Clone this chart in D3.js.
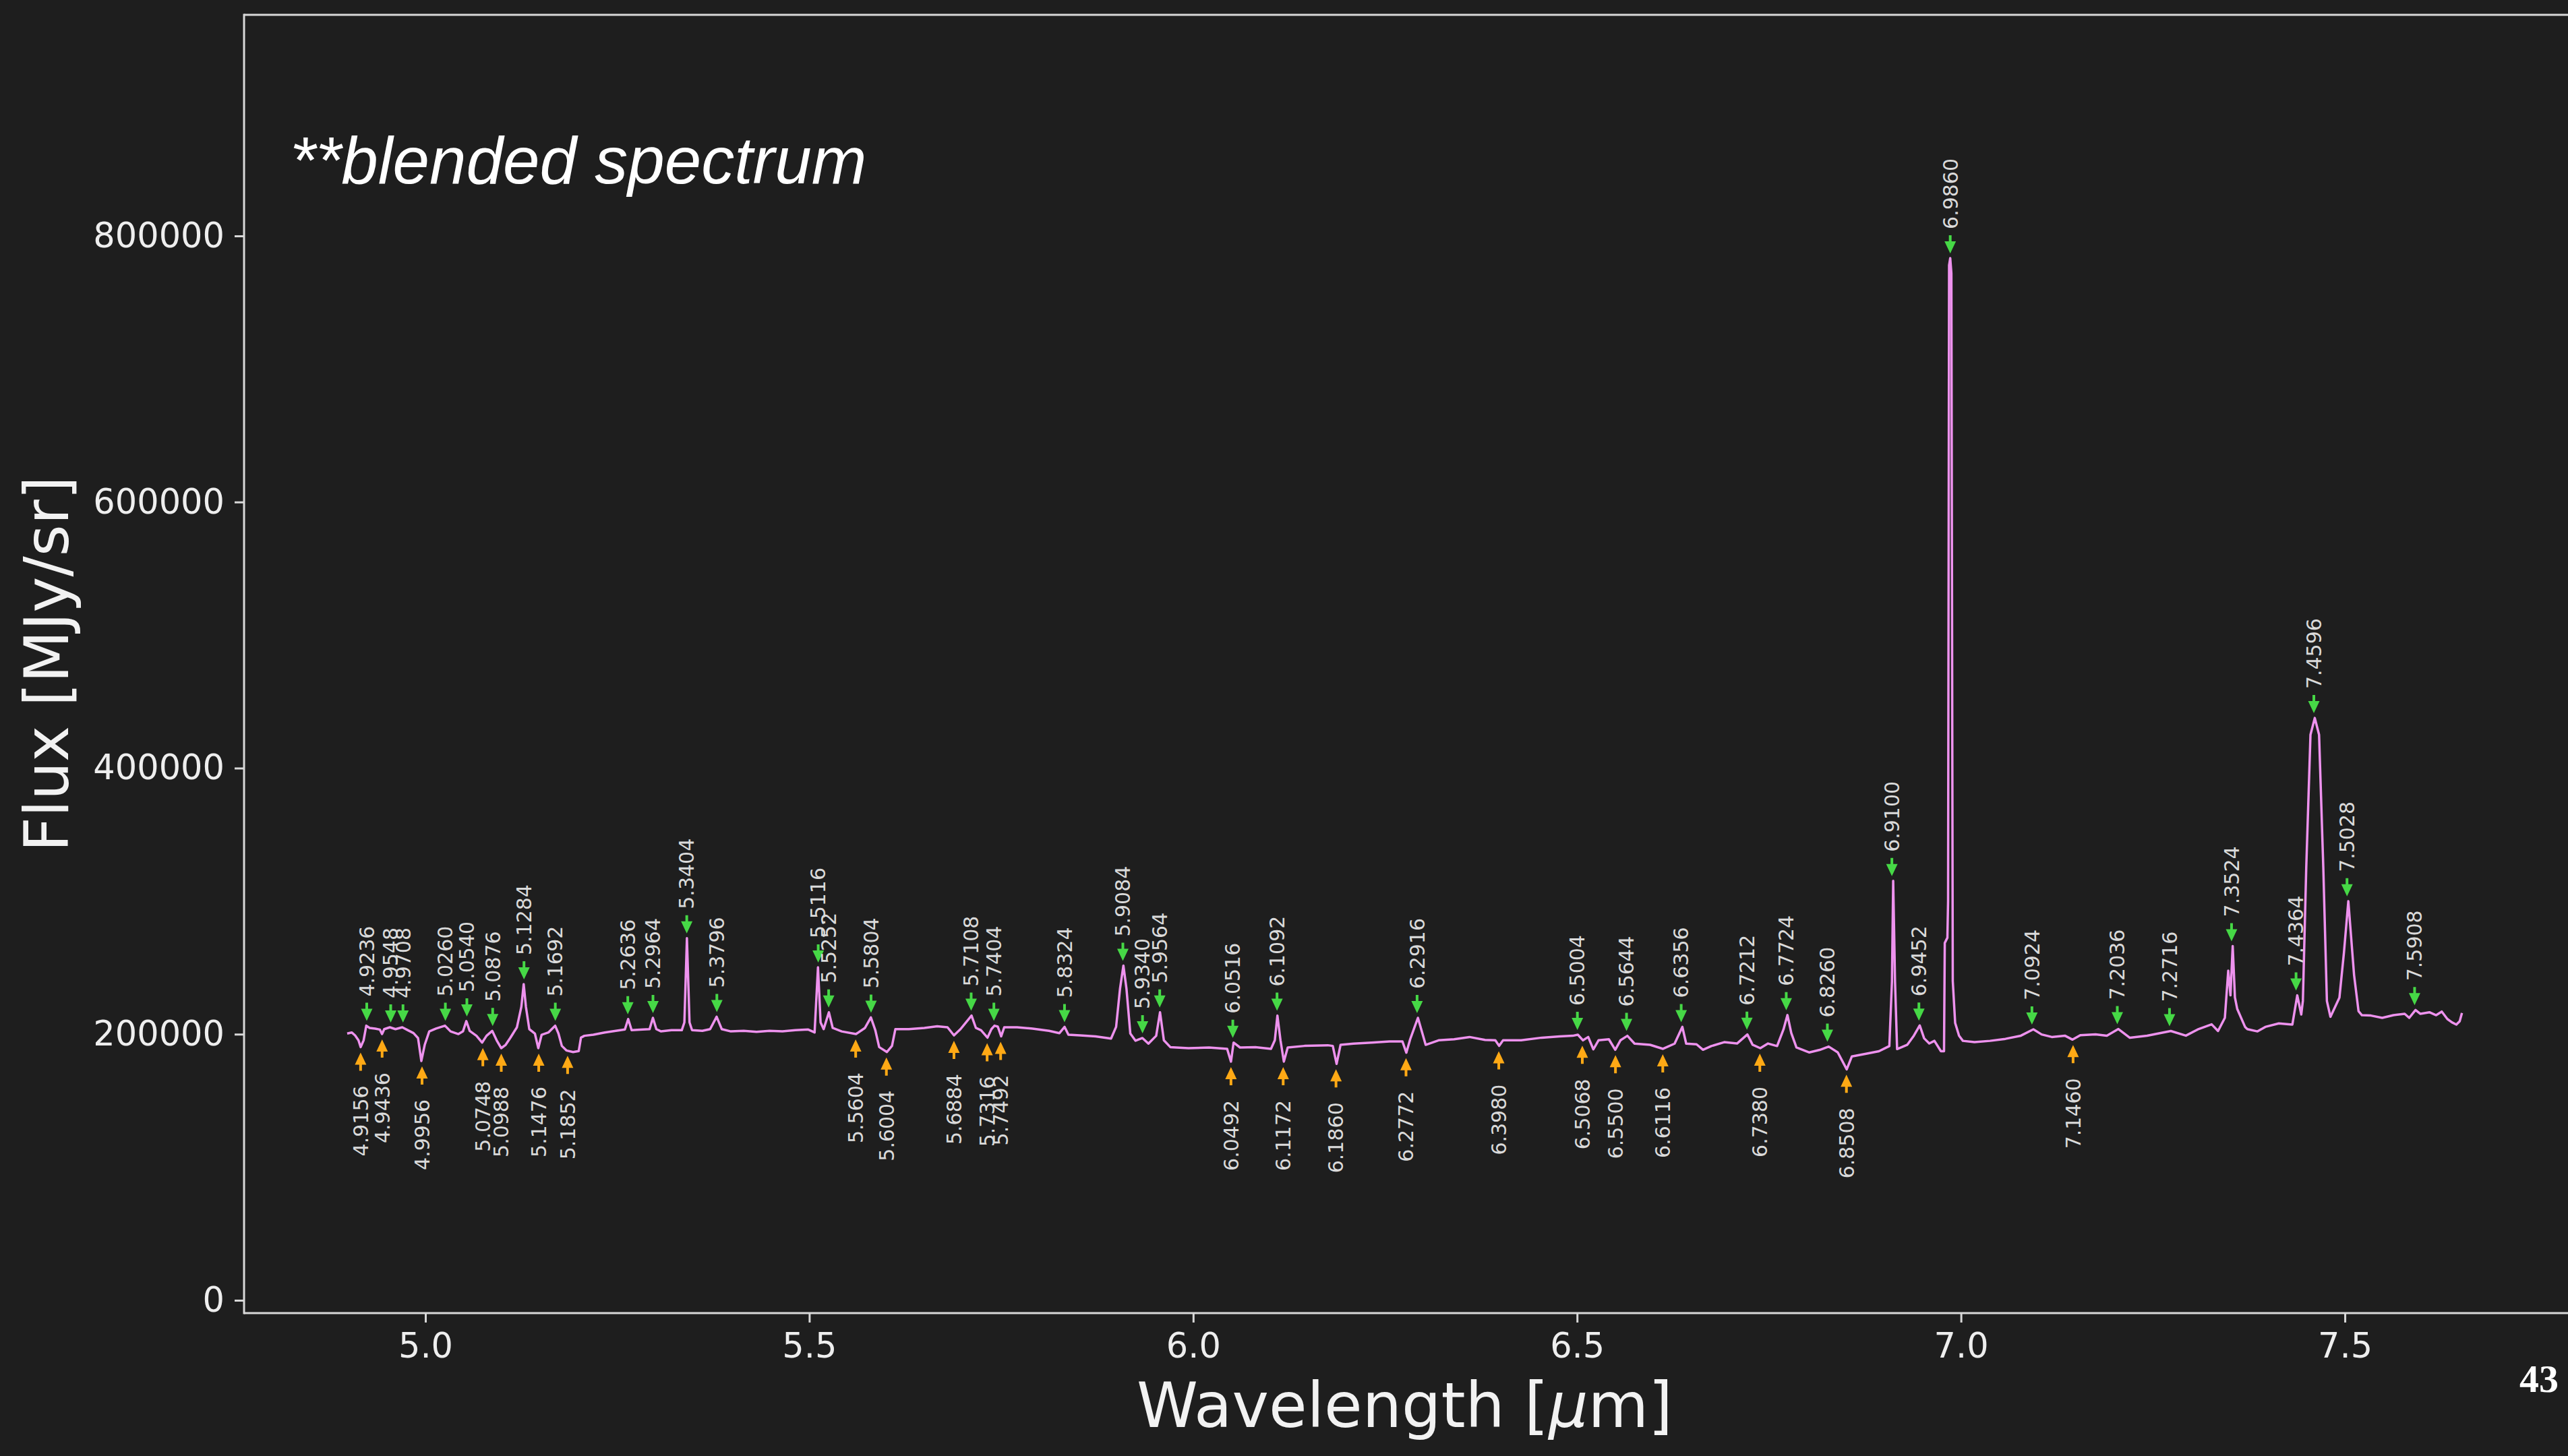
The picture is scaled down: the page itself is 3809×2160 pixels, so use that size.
<!DOCTYPE html>
<html lang="en">
<head>
<meta charset="UTF-8">
<title>blended spectrum</title>
<script src="https://d3js.org/d3.v7.min.js"></script>
<style>
    html, body { margin: 0; padding: 0; background: #1e1e1e; }
    svg { display: block; }
    .axis text { font-family: "DejaVu Sans", sans-serif; font-size: 51px; fill: #eeeeee; }
    .axis line { stroke: #d8d8d8; stroke-width: 3px; }
    .spine { stroke: #d8d8d8; stroke-width: 3px; }
    .lbl { font-family: "DejaVu Sans", sans-serif; font-size: 30px; fill: #dadada; }
</style>
</head>
<body>
<script>
// spectrum: [wavelength (um), flux (MJy/sr)]
var spectrum = [
    [4.8981, 200500], [4.9040, 201300], [4.9084, 199100], [4.9128, 195400], [4.9157, 190300],
    [4.9195, 195400], [4.9230, 206400], [4.9274, 204700], [4.9347, 204200], [4.9406, 203500],
    [4.9435, 200100], [4.9464, 203800], [4.9537, 205200], [4.9610, 203800], [4.9699, 205200],
    [4.9772, 203000], [4.9845, 200800], [4.9904, 197100], [4.9947, 179900], [4.9991, 192000],
    [5.0050, 202100], [5.0138, 204200], [5.0255, 206400], [5.0328, 202100], [5.0430, 200100],
    [5.0489, 202100], [5.0533, 209800], [5.0577, 202500], [5.0665, 198800], [5.0738, 193700],
    [5.0796, 198800], [5.0870, 202500], [5.0928, 195400], [5.0987, 189500], [5.1045, 192000],
    [5.1104, 197100], [5.1192, 205200], [5.1250, 220700], [5.1280, 237600], [5.1309, 220700],
    [5.1353, 203800], [5.1426, 200500], [5.1470, 189500], [5.1514, 199600], [5.1602, 201300],
    [5.1690, 206400], [5.1733, 200500], [5.1777, 191200], [5.1836, 187800], [5.1924, 186600],
    [5.1997, 187300], [5.2026, 197400], [5.2070, 198800], [5.2188, 199600], [5.2334, 201300],
    [5.2480, 202500], [5.2598, 203500], [5.2641, 211400], [5.2686, 203000], [5.2832, 203500],
    [5.2920, 203800], [5.2963, 212300], [5.3008, 203800], [5.3070, 202100], [5.3204, 203000],
    [5.3339, 203000], [5.3373, 208900], [5.3406, 272200], [5.3440, 208900], [5.3473, 203000],
    [5.3607, 202500], [5.3708, 203800], [5.3793, 213100], [5.3860, 203800], [5.3978, 202100],
    [5.4146, 202500], [5.4313, 201800], [5.4482, 202500], [5.4650, 202100], [5.4817, 203000],
    [5.4986, 203500], [5.5069, 201300], [5.5113, 250300], [5.5147, 208900], [5.5187, 203800],
    [5.5255, 216500], [5.5305, 204700], [5.5422, 202100], [5.5608, 200100], [5.5725, 204700],
    [5.5802, 212600], [5.5860, 203000], [5.5910, 190300], [5.6011, 186600], [5.6077, 191200],
    [5.6121, 203800], [5.6296, 203800], [5.6498, 204700], [5.6666, 205900], [5.6800, 205200],
    [5.6884, 199100], [5.6969, 203800], [5.7113, 214000], [5.7170, 204700], [5.7237, 203000],
    [5.7321, 197400], [5.7372, 203800], [5.7412, 206400], [5.7455, 205700], [5.7499, 198400],
    [5.7539, 205200], [5.7707, 205200], [5.7909, 204200], [5.8123, 202500], [5.8258, 200800],
    [5.8325, 205500], [5.8375, 199600], [5.8527, 199100], [5.8728, 198400], [5.8930, 196700],
    [5.8996, 205500], [5.9047, 234200], [5.9091, 251500], [5.9131, 234200], [5.9181, 200500],
    [5.9249, 195100], [5.9339, 197100], [5.9417, 192900], [5.9518, 198800], [5.9568, 216500],
    [5.9618, 195400], [5.9702, 190300], [5.9938, 189500], [6.0206, 190000], [6.0442, 189000],
    [6.0492, 179400], [6.0526, 193700], [6.0610, 190000], [6.0811, 190300], [6.1013, 189000],
    [6.1063, 195400], [6.1097, 214000], [6.1137, 195400], [6.1181, 179400], [6.1231, 190000],
    [6.1450, 191200], [6.1753, 191700], [6.1818, 191200], [6.1868, 177700], [6.1919, 192000],
    [6.2087, 192900], [6.2322, 193700], [6.2557, 194600], [6.2725, 194600], [6.2776, 186100],
    [6.2826, 196200], [6.2927, 212300], [6.3028, 192000], [6.3196, 195400], [6.3398, 196200],
    [6.3599, 197900], [6.3801, 195700], [6.3935, 195400], [6.3985, 191200], [6.4036, 195400],
    [6.4271, 195400], [6.4540, 197400], [6.4775, 198400], [6.4943, 198800], [6.5010, 199600],
    [6.5077, 195400], [6.5145, 197900], [6.5212, 188600], [6.5279, 195400], [6.5414, 196200],
    [6.5497, 188300], [6.5565, 195400], [6.5655, 198800], [6.5749, 192900], [6.5951, 192000],
    [6.6119, 189000], [6.6270, 192900], [6.6371, 205500], [6.6421, 192900], [6.6556, 192400],
    [6.6640, 188300], [6.6748, 191100], [6.6916, 194000], [6.7083, 193000], [6.7218, 199800],
    [6.7286, 192100], [6.7386, 189500], [6.7487, 193000], [6.7605, 191100], [6.7689, 203700],
    [6.7740, 214400], [6.7790, 200800], [6.7857, 190100], [6.8025, 186300], [6.8160, 188200],
    [6.8277, 190700], [6.8395, 186300], [6.8512, 173600], [6.8579, 183300], [6.8764, 185300],
    [6.8932, 187200], [6.9067, 191100], [6.9101, 239600], [6.9117, 315200], [6.9141, 239600],
    [6.9168, 188800], [6.9302, 192100], [6.9386, 198900], [6.9463, 206600], [6.9520, 196900],
    [6.9587, 193000], [6.9654, 195000], [6.9739, 187200], [6.9779, 187200], [6.9789, 268600],
    [6.9823, 272500], [6.9832, 300000], [6.9845, 778000], [6.9860, 783300], [6.9875, 772000],
    [6.9893, 240000], [6.9924, 208500], [6.9975, 198900], [7.0025, 195000], [7.0176, 194000],
    [7.0378, 195000], [7.0579, 196500], [7.0781, 198900], [7.0943, 203700], [7.1050, 199800],
    [7.1184, 197900], [7.1353, 198900], [7.1453, 195900], [7.1554, 199200], [7.1753, 199900],
    [7.1900, 198900], [7.2050, 203900], [7.2200, 197300], [7.2424, 198900], [7.2733, 202400],
    [7.2929, 198900], [7.3096, 203900], [7.3265, 207400], [7.3348, 202400], [7.3437, 212300],
    [7.3481, 247800], [7.3510, 229200], [7.3539, 266300], [7.3568, 227700], [7.3598, 219000],
    [7.3700, 205500], [7.3730, 203800], [7.3862, 202100], [7.3964, 205500], [7.4140, 208100],
    [7.4316, 207200], [7.4380, 229200], [7.4432, 214800], [7.4453, 225000], [7.4497, 325300],
    [7.4552, 425100], [7.4608, 437700], [7.4664, 425100], [7.4719, 325300], [7.4766, 224900],
    [7.4812, 213100], [7.4929, 227500], [7.4988, 261400], [7.5045, 300000], [7.5120, 244400],
    [7.5178, 217300], [7.5222, 214300], [7.5340, 214000], [7.5486, 212300], [7.5633, 214300],
    [7.5779, 215300], [7.5838, 212300], [7.5920, 218200], [7.5984, 215300], [7.6101, 216500],
    [7.6189, 214300], [7.6262, 217000], [7.6335, 211400], [7.6394, 208900], [7.6452, 207200],
    [7.6496, 209800], [7.6525, 216000]
];

// identified lines (green = emission, orange = absorption)
var emissionLines = [4.9236, 4.9548, 4.9708, 5.0260, 5.0540, 5.0876, 5.1284, 5.1692, 5.2636, 5.2964,
    5.3404, 5.3796, 5.5116, 5.5252, 5.5804, 5.7108, 5.7404, 5.8324, 5.9084, 5.9340, 5.9564, 6.0516,
    6.1092, 6.2916, 6.5004, 6.5644, 6.6356, 6.7212, 6.7724, 6.8260, 6.9100, 6.9452, 6.9860, 7.0924,
    7.2036, 7.2716, 7.3524, 7.4364, 7.4596, 7.5028, 7.5908];
var absorptionLines = [4.9156, 4.9436, 4.9956, 5.0748, 5.0988, 5.1476, 5.1852, 5.5604, 5.6004,
    5.6884, 5.7316, 5.7492, 6.0492, 6.1172, 6.1860, 6.2772, 6.3980, 6.5068, 6.5500, 6.6116, 6.7380,
    6.8508, 7.1460];

var xTicks = [5.0, 5.5, 6.0, 6.5, 7.0, 7.5];
var yTicks = [0, 200000, 400000, 600000, 800000];

var width = 3809, height = 2160;
var plotLeft = 362, plotRight = 3805, plotTop = 22, plotBottom = 1948;

var svg = d3.select("body").append("svg")
    .attr("width", width)
    .attr("height", height);

svg.append("rect").attr("width", width).attr("height", height).attr("fill", "#1e1e1e");

var x = d3.scaleLinear().domain([4.7638, 7.7871]).range([plotLeft, plotRight]);
var y = d3.scaleLinear().domain([-9626, 966180]).range([plotBottom, plotTop]);

// axes
var xAxis = svg.append("g")
    .attr("class", "axis")
    .attr("transform", "translate(0," + plotBottom + ")")
    .call(d3.axisBottom(x).tickValues(xTicks).tickFormat(d3.format(".1f")).tickSize(14).tickPadding(16));
xAxis.select(".domain").remove();

var yAxis = svg.append("g")
    .attr("class", "axis")
    .attr("transform", "translate(" + plotLeft + ",0)")
    .call(d3.axisLeft(y).tickValues(yTicks).tickFormat(d3.format("d")).tickSize(14).tickPadding(15));
yAxis.select(".domain").remove();

// spines
svg.append("line").attr("class", "spine").attr("x1", plotLeft).attr("x2", plotLeft)
    .attr("y1", plotTop - 1.5).attr("y2", plotBottom + 1.5);
svg.append("line").attr("class", "spine").attr("x1", plotLeft).attr("x2", width)
    .attr("y1", plotTop).attr("y2", plotTop);
svg.append("line").attr("class", "spine").attr("x1", plotLeft).attr("x2", width)
    .attr("y1", plotBottom).attr("y2", plotBottom);

// spectrum
var line = d3.line()
    .x(function(d) { return x(d[0]); })
    .y(function(d) { return y(d[1]); });

svg.append("path")
    .datum(spectrum)
    .attr("fill", "none")
    .attr("stroke", "#ee92ee")
    .attr("stroke-width", 3.5)
    .attr("stroke-linejoin", "round")
    .attr("d", line);

// flux at a line: local max (emission) or min (absorption) of the spectrum
function lineFlux(wl, emission) {
    var pts = spectrum.filter(function(d) { return Math.abs(d[0] - wl) <= 0.004; });
    return emission ? d3.max(pts, function(d) { return d[1]; })
                    : d3.min(pts, function(d) { return d[1]; });
}

var arrowLen = 27, headLen = 18, headW = 8.5, shaftW = 2;
var fmt = d3.format(".4f");

function arrowPath(tipY, dir) {
    // dir = 1 : pointing down, dir = -1 : pointing up
    var tail = tipY - dir * arrowLen, neck = tipY - dir * headLen;
    return "M" + (-shaftW) + "," + tail + "L" + shaftW + "," + tail +
        "L" + shaftW + "," + neck + "L" + headW + "," + neck +
        "L0," + tipY + "L" + (-headW) + "," + neck +
        "L" + (-shaftW) + "," + neck + "Z";
}

var em = svg.append("g").selectAll("g")
    .data(emissionLines)
    .enter().append("g")
    .attr("transform", function(d) { return "translate(" + x(d) + ",0)"; });

em.append("path")
    .attr("fill", "#46d846")
    .attr("d", function(d) { return arrowPath(y(lineFlux(d, true)) - 7, 1); });

em.append("text")
    .attr("class", "lbl")
    .attr("text-anchor", "start")
    .attr("dy", "0.36em")
    .attr("transform", function(d) {
        var ty = y(lineFlux(d, true)) - 7 - arrowLen - 9;
        return "translate(0," + ty + ") rotate(-90)";
    })
    .text(function(d) { return fmt(d); });

var ab = svg.append("g").selectAll("g")
    .data(absorptionLines)
    .enter().append("g")
    .attr("transform", function(d) { return "translate(" + x(d) + ",0)"; });

ab.append("path")
    .attr("fill", "#ffa915")
    .attr("d", function(d) { return arrowPath(y(lineFlux(d, false)) + 8, -1); });

ab.append("text")
    .attr("class", "lbl")
    .attr("text-anchor", "end")
    .attr("dy", "0.36em")
    .attr("transform", function(d) {
        var ty = y(lineFlux(d, false)) + 8 + arrowLen + 22;
        return "translate(0," + ty + ") rotate(-90)";
    })
    .text(function(d) { return fmt(d); });

// axis titles
svg.append("text")
    .attr("x", (plotLeft + plotRight) / 2)
    .attr("y", 2117)
    .attr("text-anchor", "middle")
    .style("font-family", "DejaVu Sans, sans-serif")
    .style("font-size", "92px")
    .attr("fill", "#f2f2f2")
    .html('Wavelength [<tspan font-style="italic">μ</tspan>m]');

svg.append("text")
    .attr("transform", "translate(101," + (plotTop + plotBottom) / 2 + ") rotate(-90)")
    .attr("text-anchor", "middle")
    .style("font-family", "DejaVu Sans, sans-serif")
    .style("font-size", "90px")
    .attr("fill", "#f2f2f2")
    .text("Flux [MJy/sr]");

// slide annotations
svg.append("text")
    .attr("x", 430)
    .attr("y", 272)
    .style("font-family", "Liberation Sans, Arial, sans-serif")
    .style("font-style", "italic")
    .style("font-size", "98px")
    .attr("fill", "#ffffff")
    .text("**blended spectrum");

svg.append("text")
    .attr("x", 3737)
    .attr("y", 2065)
    .style("font-family", "Liberation Serif, serif")
    .style("font-weight", "bold")
    .style("font-size", "58px")
    .attr("fill", "#ffffff")
    .text("43");
</script>
</body>
</html>
